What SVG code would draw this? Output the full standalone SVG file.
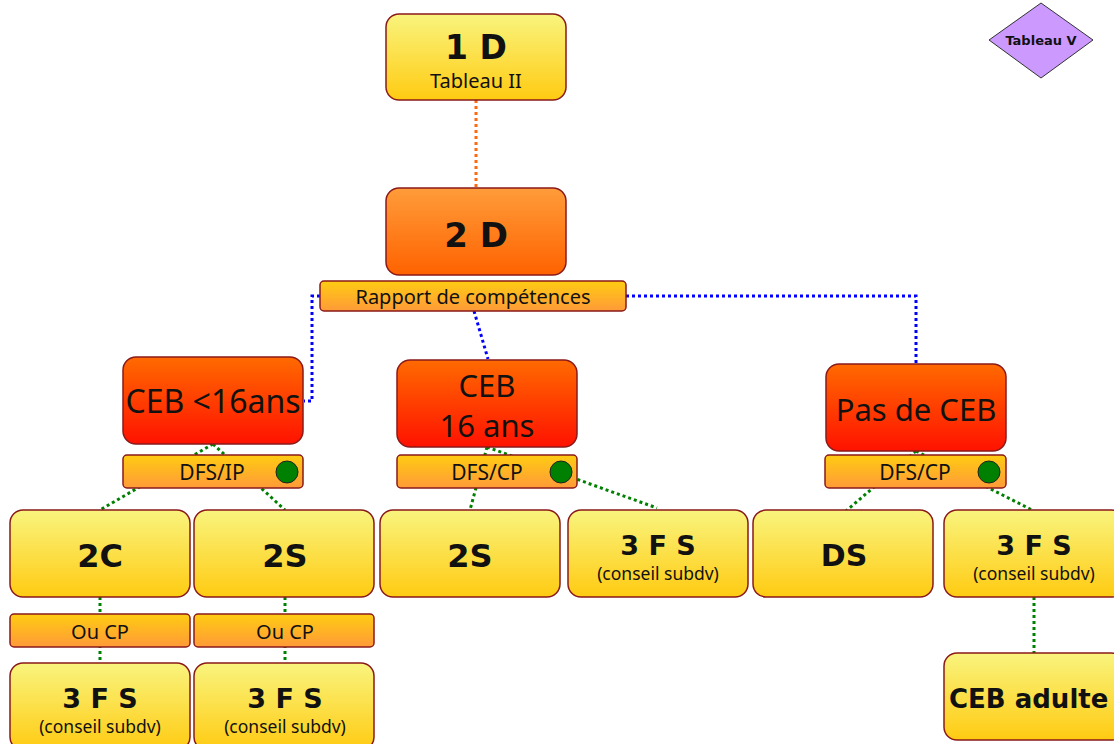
<svg xmlns="http://www.w3.org/2000/svg" width="1114" height="744" viewBox="0 0 1114 744">
<defs>
<linearGradient id="gY" x1="0" y1="0" x2="0" y2="1"><stop offset="0" stop-color="#F9F47E"/><stop offset="1" stop-color="#FFCB12"/></linearGradient>
<linearGradient id="gO" x1="0" y1="0" x2="0" y2="1"><stop offset="0" stop-color="#FF9C3A"/><stop offset="1" stop-color="#FF6200"/></linearGradient>
<linearGradient id="gR" x1="0" y1="0" x2="0" y2="1"><stop offset="0" stop-color="#FF6A00"/><stop offset="1" stop-color="#FF1200"/></linearGradient>
<linearGradient id="gB" x1="0" y1="0" x2="0" y2="1"><stop offset="0" stop-color="#FFCC12"/><stop offset="1" stop-color="#FF9A38"/></linearGradient>
</defs>
<style>
.box{stroke:#8B1A1A;stroke-width:1.5}
.y{fill:url(#gY)}.o{fill:url(#gO)}.r{fill:url(#gR)}.b{fill:url(#gB)}
.dot{fill:#008000;stroke:#222;stroke-width:1}
.c{fill:none;stroke-width:3;stroke-dasharray:3 3}
.cg{stroke:#008000}.cb{stroke:#0000FF}.co{stroke:#FF6A10}
text{fill:#111;text-anchor:middle}
.bt{font-family:"DejaVu Sans",Verdana,sans-serif;font-weight:bold}
.rt{font-family:"Noto Sans","DejaVu Sans",sans-serif}
</style>
<g id="connectors">
<path class="c co" d="M476,100 V188"/>
<path class="c cb" d="M320,296 H312 V401 H304"/>
<path class="c cb" d="M474,311 L488,359"/>
<path class="c cb" d="M626,296 H916 V364"/>
<path class="c cg" d="M213,444 L100,510"/>
<path class="c cg" d="M213,444 L285,510"/>
<path class="c cg" d="M487,447 L470,510"/>
<path class="c cg" d="M487,447 L657,508"/>
<path class="c cg" d="M916,451 L846,511"/>
<path class="c cg" d="M916,451 L1034,511"/>
<path class="c cg" d="M100,597 V663"/>
<path class="c cg" d="M285,597 V663"/>
<path class="c cg" d="M1034,597 V653"/>
</g>
<g id="n1D"><rect class="box y" x="386" y="14" width="180" height="86" rx="13"/><text class="bt" x="476" y="59" font-size="33">1 D</text><text class="rt" x="476" y="88" font-size="20">Tableau II</text></g>
<g id="n2D"><rect class="box o" x="386" y="188" width="180" height="87" rx="13"/><text class="bt" x="476" y="247" font-size="34">2 D</text></g>
<g id="rapport"><rect class="box b" x="320" y="281" width="306" height="30" rx="4"/><text class="rt" x="473" y="304" font-size="20">Rapport de compétences</text></g>
<g id="ceb16moins"><rect class="box r" x="123" y="357" width="180" height="87" rx="13"/><text class="rt" x="213" y="413" font-size="32">CEB &lt;16ans</text></g>
<g id="ceb16"><rect class="box r" x="397" y="360" width="180" height="87" rx="13"/><text class="rt" x="487" y="397" font-size="31">CEB</text><text class="rt" x="487" y="437" font-size="31">16 ans</text></g>
<g id="pasceb"><rect class="box r" x="826" y="364" width="180" height="87" rx="13"/><text class="rt" x="916" y="421" font-size="31">Pas de CEB</text></g>
<g id="dfsip"><rect class="box b" x="123" y="455" width="180" height="33" rx="4"/><text class="rt" x="212" y="480" font-size="21">DFS/IP</text><circle class="dot" cx="287" cy="472" r="11"/></g>
<g id="dfscp1"><rect class="box b" x="397" y="455" width="180" height="33" rx="4"/><text class="rt" x="487" y="480" font-size="21">DFS/CP</text><circle class="dot" cx="561" cy="472" r="11"/></g>
<g id="dfscp2"><rect class="box b" x="825" y="455" width="181" height="33" rx="4"/><text class="rt" x="915" y="480" font-size="21">DFS/CP</text><circle class="dot" cx="989" cy="472" r="11"/></g>
<g id="n2C"><rect class="box y" x="10" y="510" width="180" height="87" rx="13"/><text class="bt" x="100" y="567" font-size="32">2C</text></g>
<g id="n2Sa"><rect class="box y" x="194" y="510" width="180" height="87" rx="13"/><text class="bt" x="285" y="567" font-size="32">2S</text></g>
<g id="n2Sb"><rect class="box y" x="380" y="510" width="180" height="87" rx="13"/><text class="bt" x="470" y="567" font-size="32">2S</text></g>
<g id="n3FSa"><rect class="box y" x="568" y="510" width="180" height="87" rx="13"/><text class="bt" x="658" y="555" font-size="27">3 F S</text><text class="rt" x="658" y="580" font-size="17.5">(conseil subdv)</text></g>
<g id="nDS"><rect class="box y" x="753" y="510" width="180" height="87" rx="13"/><text class="bt" x="844" y="566" font-size="30">DS</text></g>
<g id="n3FSb"><rect class="box y" x="944" y="510" width="180" height="87" rx="13"/><text class="bt" x="1034" y="555" font-size="27">3 F S</text><text class="rt" x="1034" y="580" font-size="17.5">(conseil subdv)</text></g>
<g id="ouCPa"><rect class="box b" x="10" y="614" width="180" height="33" rx="4"/><text class="rt" x="100" y="639" font-size="20">Ou CP</text></g>
<g id="ouCPb"><rect class="box b" x="194" y="614" width="180" height="33" rx="4"/><text class="rt" x="285" y="639" font-size="20">Ou CP</text></g>
<g id="n3FSc"><rect class="box y" x="10" y="663" width="180" height="87" rx="13"/><text class="bt" x="100" y="708" font-size="27">3 F S</text><text class="rt" x="100" y="733" font-size="17.5">(conseil subdv)</text></g>
<g id="n3FSd"><rect class="box y" x="194" y="663" width="180" height="87" rx="13"/><text class="bt" x="285" y="708" font-size="27">3 F S</text><text class="rt" x="285" y="733" font-size="17.5">(conseil subdv)</text></g>
<g id="cebadulte"><rect class="box y" x="944" y="653" width="180" height="87" rx="13"/><text class="bt" x="949" y="708" font-size="26" style="text-anchor:start">CEB adulte</text></g>
<g id="tableauV"><polygon points="1041,3 1093,40 1041,78 989,40" fill="#CC99FF" stroke="#333" stroke-width="1"/><text class="bt" x="1041" y="45" font-size="13">Tableau V</text></g>
</svg>
